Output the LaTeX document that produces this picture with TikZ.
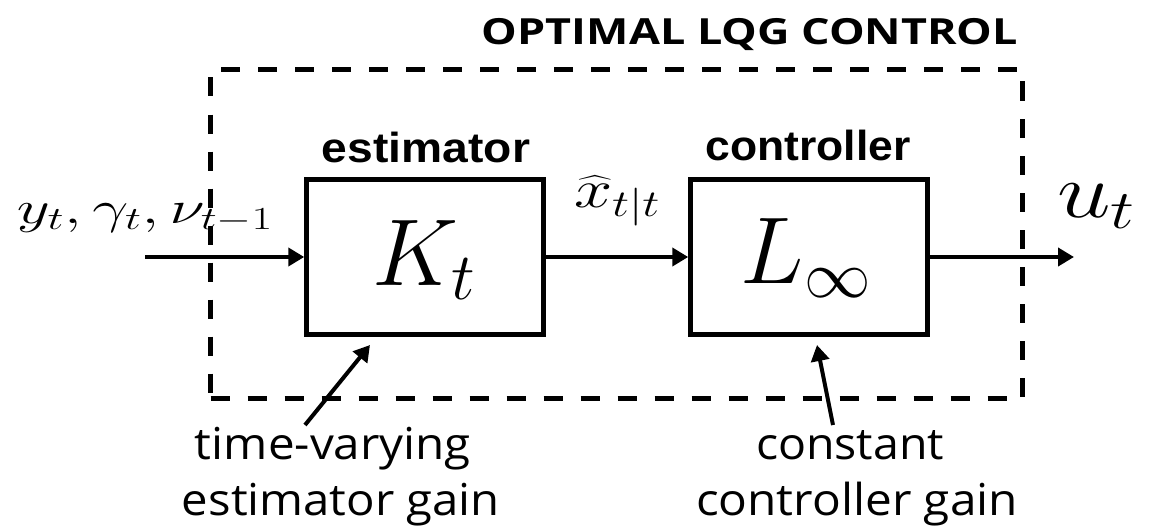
\RequirePackage{fix-cm}
\documentclass[tikz,border=0pt]{standalone}
\usepackage{exscale}
\usepackage[no-math]{fontspec}
\usepackage{graphicx}
\usetikzlibrary{arrows.meta}
\newfontfamily\comicf{Open Sans}
\newfontfamily\arialf{Liberation Sans}
\newcommand{\fitw}[2]{\resizebox{#1}{\height}{#2}}
\begin{document}
\begin{tikzpicture}[x=1pt,y=-1pt,
  blk/.style={draw, line width=4.5pt, minimum width=237pt, minimum height=155pt, inner sep=0pt},
  dbox/.style={draw, line width=4.5pt, dash pattern=on 19pt off 18pt, minimum width=812pt, minimum height=329pt, inner sep=0pt},
  arr/.style={line width=4pt, -{Triangle[length=16pt,width=18pt]}},
  txt/.style={inner sep=0pt, anchor=base},
]
\useasboundingbox (0,0) rectangle (1149,527);
\node[dbox] (lqg) at (616.5,234) {};
\node[blk] (est) at (425,257) {};
\node[blk] (ctl) at (809,257) {};
% texts
\node[txt] (title) at (750,45) {\fitw{536pt}{\comicf\bfseries\fontsize{36}{36}\selectfont OPTIMAL LQG CONTROL}};
\node[txt] (estl) at (426,162) {\fitw{208pt}{\arialf\bfseries\fontsize{42}{42}\selectfont estimator}};
\node[txt] (ctll) at (808,160) {\fitw{205pt}{\arialf\bfseries\fontsize{42}{42}\selectfont controller}};
\node[txt] (kt) at (424,285) {\fontsize{95}{95}\selectfont $K_t$};
\node[txt] (linf) at (806,283) {\fontsize{95}{95}\selectfont $L_\infty$};
\node[txt] (inl) at (145,223) {\fitw{256pt}{\fontsize{46}{46}\selectfont $y_t,\gamma_t,\nu_{t-1}$}};
\node[txt] (xh) at (617,207) {\fitw{86pt}{\fontsize{54}{54}\selectfont $\widehat{x}_{t|t}$}};
\node[txt] (ut) at (1096,217) {\fitw{78pt}{\fontsize{78}{78}\selectfont $u_t$}};
\node[txt] (an1a) at (333,459) {\fitw{276pt}{\comicf\fontsize{44}{44}\selectfont time-varying}};
\node[txt] (an1b) at (341,515) {\fitw{318pt}{\comicf\fontsize{44}{44}\selectfont estimator gain}};
\node[txt] (an2a) at (850,459) {\fitw{188pt}{\comicf\fontsize{44}{44}\selectfont constant}};
\node[txt] (an2b) at (857,515) {\fitw{322pt}{\comicf\fontsize{44}{44}\selectfont controller gain}};
% connectors
\coordinate (in) at (145,257);
\coordinate (out) at (1074,257);
\draw[arr] (in) -- (est.west);
\draw[arr] (est.east) -- (ctl.west);
\draw[arr] (ctl.east) -- (out);
\coordinate (a1t) at (305,425);
\coordinate (a1h) at (370,345);
\coordinate (a2t) at (833,425);
\coordinate (a2h) at (817,345);
\draw[arr] (a1t) -- (a1h);
\draw[arr] (a2t) -- (a2h);
\end{tikzpicture}
\end{document}
